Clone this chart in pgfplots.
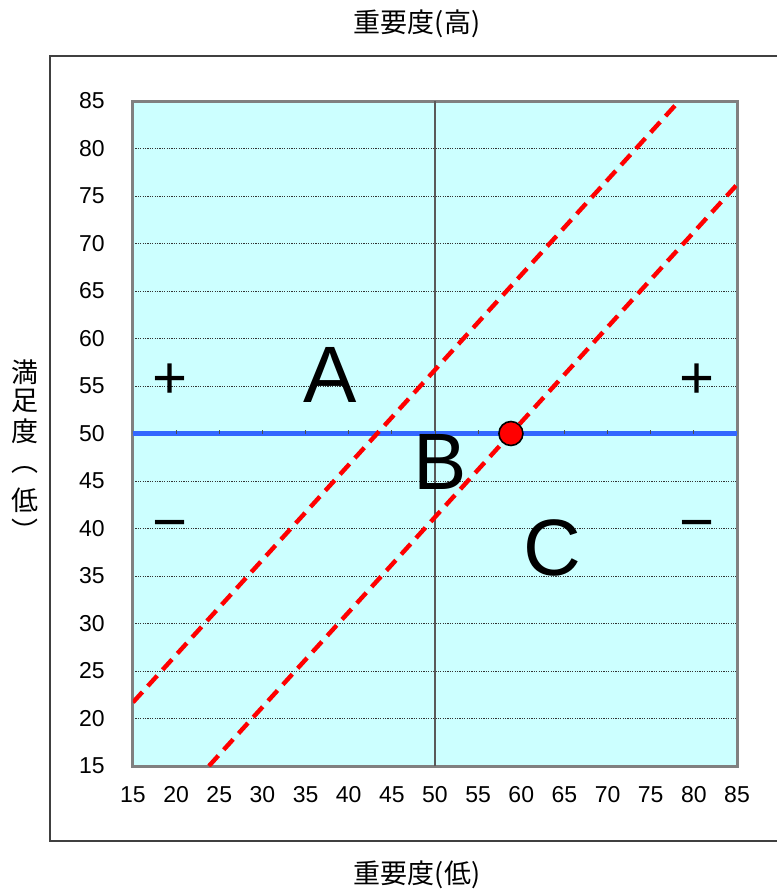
\documentclass[border=0pt]{standalone}
\usepackage{fontspec}
\setmainfont{Liberation Sans}
\newfontfamily\jp{Noto Sans CJK JP}
\usepackage{pgfplots}
\pgfplotsset{compat=1.18}
\definecolor{bgcyan}{HTML}{CCFFFF}
\definecolor{frame}{HTML}{808080}
\definecolor{bline}{HTML}{3366FF}
\definecolor{rline}{HTML}{FF0000}

\begin{document}
\begin{tikzpicture}[x=0.5pt,y=0.5pt]
% page size and outer frame (1 unit = 1 px of the reference)
\useasboundingbox (-133,-127) rectangle (643,766);
\draw[black!75,line width=0.8pt] (660,710) -- (-83,710) -- (-83,-75) -- (660,-75);
\begin{axis}[
  at={(0,0)}, anchor=south west,
  scale only axis,
  width=302pt, height=332.5pt,
  xmin=15, xmax=85, ymin=15, ymax=85,
  xtick={15,20,...,85}, ytick={15,20,...,85},
  major tick length=0pt,
  tick label style={font=\fontsize{11.5}{13}\selectfont, inner sep=0pt},
  yticklabel style={anchor=east, xshift=-14pt},
  xticklabel style={anchor=north, yshift=-10pt},
  /pgf/number format/assume math mode=true,
  axis background/.style={fill=bgcyan},
  axis line style={draw=frame, line width=1.5pt},
  ymajorgrids,
  grid style={black!80, dash pattern=on 0.6pt off 0.6pt, line width=0.5pt},
  clip=true,
]
% vertical axis at x = 50
\addplot[black!65, line width=0.8pt] coordinates {(50,15) (50,85)};
% horizontal axis at y = 50 with small ticks
\addplot[bline, line width=2.2pt] coordinates {(15,50) (85,50)};
\foreach \t in {15,20,...,85} {
  \edef\tmp{\noexpand\draw[black!70, line width=0.5pt] (axis cs:\t,50) -- (axis cs:\t,50.4);}
  \tmp
}
% dashed boundaries
\addplot[rline, line width=2.2pt, dash pattern=on 7pt off 4pt] coordinates {(15,21.7) (78.3,85)};
\addplot[rline, line width=2.2pt, dash pattern=on 7pt off 4pt] coordinates {(23.8,15) (85,76.2)};
% current position
\addplot[only marks, mark=*, mark size=6pt, mark options={fill=rline, draw=black, line width=0.8pt}] coordinates {(58.8,50)};
% region labels
\node[font=\fontsize{40}{40}\selectfont] at (axis cs:37.8,56.2) {A};
\node[font=\fontsize{40}{40}\selectfont] at (axis cs:50.6,47.0) {B};
\node[font=\fontsize{40}{40}\selectfont] at (axis cs:63.6,37.9) {C};
\node[font=\fontsize{30}{30}\selectfont] at (axis cs:19.3,55.5) {+};
\node[font=\fontsize{30}{30}\selectfont] at (axis cs:80.4,55.5) {+};
\node[font=\fontsize{30}{30}\selectfont] at (axis cs:19.3,39.7) {−};
\node[font=\fontsize{30}{30}\selectfont] at (axis cs:80.4,39.7) {−};
\end{axis}
% titles
\node[font=\jp\fontsize{13.5}{15}\selectfont] at (417-133,742) {重要度(高)};
\node[font=\jp\fontsize{13.5}{15}\selectfont] at (417-133,-109) {重要度(低)};
% vertical label, one character per line
\begin{scope}[every node/.style={font=\jp\fontsize{13.5}{15}\selectfont, inner sep=0pt}]
\node at (-108,394) {満};
\node at (-108,365) {足};
\node at (-108,335) {度};
\node at (-108,296) {︵};
\node at (-108,266) {低};
\node at (-108,236) {︶};
\end{scope}
\end{tikzpicture}
\end{document}
